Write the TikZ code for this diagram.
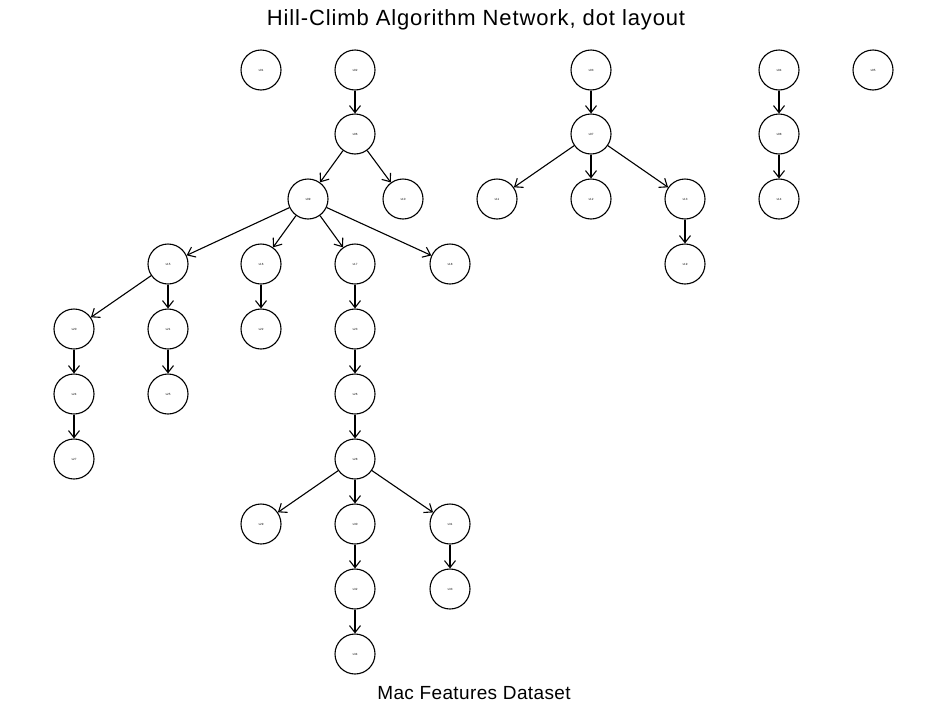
\documentclass[tikz,border=0pt]{standalone}
\usepackage{fontspec}
\setmainfont{Liberation Sans}
\newfontfamily\titlefont[LetterSpace=4]{Liberation Sans}
\newfontfamily\subfont[LetterSpace=2]{Liberation Sans}
\usetikzlibrary{arrows.meta}
\begin{document}
\begin{tikzpicture}[x=1pt,y=-1pt,
  var/.style={circle, draw, line width=1.1pt, minimum size=40pt, inner sep=0pt, font=\fontsize{3}{3.5}\selectfont},
  dep/.style={-{Straight Barb[length=7pt,width=11pt,line width=1.1pt]}, line width=1.1pt}]
\useasboundingbox (0,0) rectangle (941,707);
\node[font=\titlefont\fontsize{22}{26}\selectfont] (title) at (476,20) {Hill-Climb Algorithm Network, dot layout};
\node[font=\subfont\fontsize{19}{22}\selectfont] (sub) at (474,693) {Mac Features Dataset};
% top row
\node[var] (a) at (261,70) {v01};
\node[var] (b) at (355,70) {v02};
\node[var] (c) at (591,70) {v03};
\node[var] (d) at (779,70) {v04};
\node[var] (e) at (873,70) {v05};
% second row
\node[var] (b2) at (355,134) {v06};
\node[var] (c2) at (591,134) {v07};
\node[var] (d2) at (779,134) {v08};
% third row
\node[var] (b3) at (308,199) {v09};
\node[var] (b4) at (403,199) {v10};
\node[var] (c3) at (497,199) {v11};
\node[var] (c4) at (591,199) {v12};
\node[var] (c5) at (685,199) {v13};
\node[var] (d3) at (779,199) {v14};
% fourth row
\node[var] (f1) at (168,264) {v15};
\node[var] (f2) at (261,264) {v16};
\node[var] (f3) at (355,264) {v17};
\node[var] (f4) at (450,264) {v18};
\node[var] (c6) at (685,264) {v19};
% fifth row
\node[var] (g1) at (74,329) {v20};
\node[var] (g2) at (168,329) {v21};
\node[var] (g3) at (261,329) {v22};
\node[var] (g4) at (355,329) {v23};
% sixth row
\node[var] (h1) at (74,394) {v24};
\node[var] (h2) at (168,394) {v25};
\node[var] (h3) at (355,394) {v26};
% seventh row
\node[var] (i1) at (74,459) {v27};
\node[var] (i2) at (355,459) {v28};
% lower rows
\node[var] (j1) at (261,524) {v29};
\node[var] (j2) at (355,524) {v30};
\node[var] (j3) at (450,524) {v31};
\node[var] (k1) at (355,589) {v32};
\node[var] (k2) at (450,589) {v33};
\node[var] (l1) at (355,654) {v34};
% arcs
\draw[dep] (b) -- (b2);
\draw[dep] (b2) -- (b3);
\draw[dep] (b2) -- (b4);
\draw[dep] (b3) -- (f1);
\draw[dep] (b3) -- (f2);
\draw[dep] (b3) -- (f3);
\draw[dep] (b3) -- (f4);
\draw[dep] (f1) -- (g1);
\draw[dep] (f1) -- (g2);
\draw[dep] (f2) -- (g3);
\draw[dep] (f3) -- (g4);
\draw[dep] (g1) -- (h1);
\draw[dep] (g2) -- (h2);
\draw[dep] (g4) -- (h3);
\draw[dep] (h1) -- (i1);
\draw[dep] (h3) -- (i2);
\draw[dep] (i2) -- (j1);
\draw[dep] (i2) -- (j2);
\draw[dep] (i2) -- (j3);
\draw[dep] (j2) -- (k1);
\draw[dep] (j3) -- (k2);
\draw[dep] (k1) -- (l1);
\draw[dep] (c) -- (c2);
\draw[dep] (c2) -- (c3);
\draw[dep] (c2) -- (c4);
\draw[dep] (c2) -- (c5);
\draw[dep] (c5) -- (c6);
\draw[dep] (d) -- (d2);
\draw[dep] (d2) -- (d3);
\end{tikzpicture}
\end{document}
